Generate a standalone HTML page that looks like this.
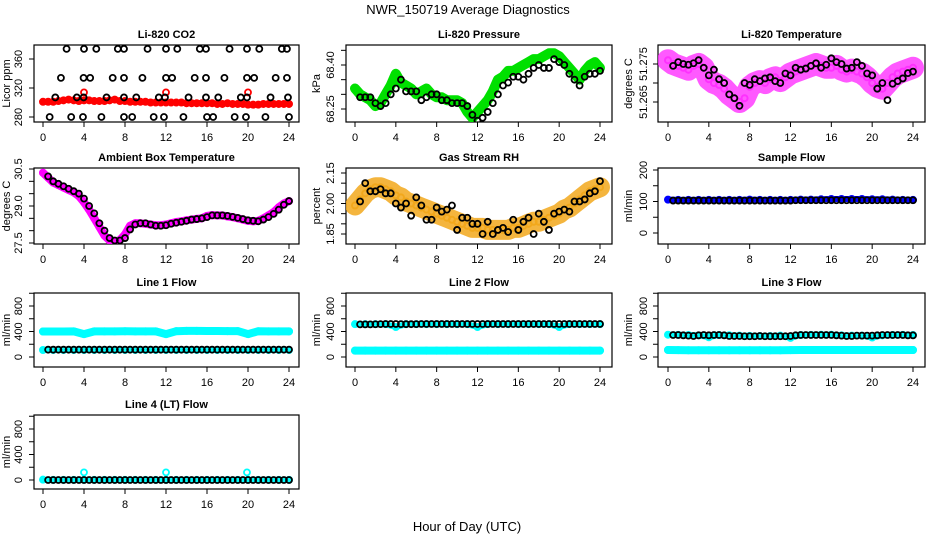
<!DOCTYPE html>
<html><head><meta charset="utf-8"><style>
html,body{margin:0;padding:0;background:#fff;}
svg{display:block;font-family:"Liberation Sans",sans-serif;}
</style></head><body>
<svg id="chart" width="936" height="540" viewBox="0 0 936 540">
<text x="468" y="14" font-size="13" text-anchor="middle">NWR_150719  Average Diagnostics</text>
<text x="467" y="531" font-size="13" text-anchor="middle">Hour of Day (UTC)</text>
</svg>
<script>
// ---------- data ----------
const xTicks = [0, 4, 8, 12, 16, 20, 24];
const co2Red = [301,301,301,302,303,304,303,302,303,303,302,302,302,303,304,302,302,301,301,301,301,300,300,300,300,300,300,300,299,299,299,299,299,299,298,298,299,298,298,298,297,297,297,298,298,298,298,298,298];
const co2RedOutX = [4.0, 12.0, 20.0];
const co2RedOutY = [314, 314, 314];
const co2BlackX = [2.3,4.0,5.2,7.3,7.9,10.2,12.0,13.1,15.3,15.9,18.2,19.9,21.1,23.3,23.8,
  1.75,3.96,4.6,6.8,7.9,9.7,12.0,12.6,14.8,15.9,17.7,19.9,20.6,22.7,23.8,
  1.2,3.3,3.96,6.2,7.9,9.1,11.3,11.9,14.2,15.9,17.1,19.3,19.9,22.2,23.9,
  0.65,2.75,3.9,5.7,7.9,8.7,10.8,11.8,13.7,16.0,16.6,18.7,19.8,21.7,24.0];
const co2BlackY = [374,374,374,374,374,374,374,374,374,374,374,374,374,374,374,
  334,334,334,334,334,334,334,334,334,334,334,334,334,334,334,
  307,307,307,307,307,307,307,307,307,307,307,307,307,307,307,
  280,280,280,280,280,280,280,280,280,280,280,280,280,280,280];
const presGreen = [68.32,68.30,68.29,68.28,68.26,68.27,68.30,68.33,68.37,68.34,68.33,68.32,68.30,68.31,68.32,68.30,68.29,68.29,68.28,68.28,68.28,68.27,68.24,68.22,68.24,68.26,68.28,68.31,68.35,68.36,68.38,68.38,68.39,68.40,68.41,68.42,68.42,68.43,68.44,68.44,68.43,68.41,68.39,68.37,68.35,68.38,68.40,68.41,68.39];
const presBlack = [68.29,68.29,68.29,68.27,68.26,68.27,68.30,68.32,68.35,68.31,68.31,68.31,68.28,68.29,68.30,68.30,68.28,68.28,68.27,68.27,68.27,68.26,68.23,68.21,68.22,68.24,68.27,68.30,68.33,68.34,68.36,68.36,68.35,68.37,68.39,68.40,68.39,68.39,68.42,68.41,68.40,68.37,68.35,68.33,68.36,68.37,68.37,68.38];
const tempMagenta = [51.2760,51.2750,51.2745,51.2740,51.2735,51.2745,51.2750,51.2740,51.2710,51.2700,51.2695,51.2685,51.2670,51.2660,51.2650,51.2660,51.2690,51.2700,51.2705,51.2700,51.2710,51.2715,51.2705,51.2715,51.2725,51.2730,51.2735,51.2740,51.2745,51.2750,51.2745,51.2740,51.2740,51.2745,51.2735,51.2730,51.2735,51.2730,51.2725,51.2715,51.2700,51.2690,51.2685,51.2700,51.2715,51.2725,51.2730,51.2735,51.2740];
const tempBlack = [51.2745,51.2755,51.2750,51.2748,51.2752,51.2760,51.2740,51.2720,51.2735,51.2710,51.2700,51.2670,51.2660,51.2640,51.2700,51.2695,51.2710,51.2705,51.2712,51.2715,51.2705,51.2700,51.2725,51.2720,51.2740,51.2735,51.2738,51.2745,51.2752,51.2740,51.2748,51.2765,51.2755,51.2750,51.2738,51.2740,51.2755,51.2745,51.2725,51.2720,51.2685,51.2700,51.2655,51.2698,51.2705,51.2712,51.2726,51.2730];
const ambMagenta = [30.35,30.15,29.95,29.85,29.75,29.65,29.55,29.40,29.15,28.85,28.50,28.15,27.80,27.60,27.55,27.62,27.85,28.20,28.30,28.30,28.28,28.25,28.22,28.22,28.25,28.30,28.35,28.38,28.42,28.45,28.48,28.50,28.60,28.63,28.62,28.62,28.58,28.55,28.50,28.45,28.40,28.38,28.40,28.50,28.62,28.75,28.95,29.10,29.20];
const ambBlack = [30.2,30.0,29.9,29.8,29.7,29.6,29.5,29.3,29.0,28.7,28.3,28.0,27.7,27.6,27.6,27.7,28.05,28.25,28.3,28.3,28.25,28.2,28.2,28.22,28.28,28.32,28.36,28.4,28.45,28.47,28.5,28.55,28.62,28.62,28.62,28.6,28.56,28.52,28.47,28.42,28.4,28.38,28.45,28.55,28.68,28.85,29.05,29.2];
const rhOrange = [1.99,2.02,2.05,2.07,2.08,2.08,2.07,2.06,2.04,2.03,2.01,2.00,1.99,1.98,1.97,1.96,1.95,1.94,1.93,1.92,1.91,1.90,1.89,1.88,1.88,1.88,1.87,1.87,1.87,1.87,1.87,1.88,1.88,1.89,1.90,1.91,1.91,1.92,1.93,1.94,1.95,1.97,1.98,2.00,2.02,2.04,2.06,2.07,2.08];
const rhBlack = [2.01,2.10,2.06,2.06,2.07,2.05,2.05,2.00,1.98,2.00,1.94,2.03,1.99,1.92,1.92,1.98,1.96,1.97,1.99,1.87,1.93,1.93,1.90,1.90,1.85,1.91,1.85,1.87,1.88,1.86,1.92,1.87,1.91,1.93,1.85,1.95,1.91,1.87,1.95,1.96,1.97,1.96,2.01,2.01,2.02,2.05,2.06,2.11];
const sampleBlue = [106,105,105,105,105,105,105,105,106,105,105,105,105,106,106,107,108,108,108,108,107,107,106,105,105];
const sampleBlack = [103,103,103,103,103,103,103,103,103,103,103,103,103,103,103,103,103,103,103,103,103,103,103,103,104,104,104,104,104,104,104,104,104,104,104,104,104,104,104,104,104,104,104,104,104,104,104,104];
const line1CyanHi = [400,400,400,402,360,402,402,402,404,402,402,402,360,405,410,410,408,408,406,406,360,404,402,402,402];
const line1CyanLo = [110,110,110,110,110,110,110,110,110,110,110,110,110,110,110,110,110,110,110,110,110,110,110,110,110];
const line1Black = [115,115,115,115,115,115,115,115,115,115,115,115,115,115,115,115,115,115,115,115,115,115,115,115,115,115,115,115,115,115,115,115,115,115,115,115,115,115,115,115,115,115,115,115,115,115,115,115];
const line2CyanHi = [515,515,515,515,470,515,515,515,515,515,515,515,470,515,515,515,515,515,515,515,470,515,515,515,515];
const line2CyanLo = [100,100,100,100,100,100,100,100,100,100,100,100,100,100,100,100,100,100,100,100,100,100,100,100,100];
const line2Black = [512,512,512,514,516,518,518,518,516,515,515,516,518,518,518,518,518,518,518,518,518,518,518,518,518,518,518,518,518,518,518,518,518,518,518,518,518,518,518,518,518,518,518,518,518,518,518,518];
const line3CyanHi = [350,348,345,340,310,345,342,336,332,330,330,335,300,345,348,350,350,340,335,335,305,340,345,348,345];
const line3CyanLo = [110,108,105,105,105,105,105,105,105,105,105,105,108,110,110,110,110,110,110,110,110,110,110,110,110];
const line3Black = [345,345,340,335,330,340,345,340,345,345,340,330,330,330,325,325,325,330,325,325,325,325,325,330,340,345,345,345,345,345,345,345,340,335,330,330,335,335,335,335,340,345,345,345,345,345,340,340];
const line4Cyan = [5,2,2,2,2,2,2,2,2,2,2,2,2,2,2,2,2,2,2,2,2,2,2,2,2];
const line4CyanOutX = [4.0, 12.0, 19.9];
const line4CyanOutY = [120, 120, 120];
const line4Black = [0,0,0,0,0,0,0,0,0,0,0,0,0,0,0,0,0,0,0,0,0,0,0,0,0,0,0,0,0,0,0,0,0,0,0,0,0,0,0,0,0,0,0,0,0,0,0,0];
const blackHours = [0.5,1,1.5,2,2.5,3,3.5,4,4.5,5,5.5,6,6.5,7,7.5,8,8.5,9,9.5,10,10.5,11,11.5,12,12.5,13,13.5,14,14.5,15,15.5,16,16.5,17,17.5,18,18.5,19,19.5,20,20.5,21,21.5,22,22.5,23,23.5,24];
const co2Ticks = [280,320,360]; const co2Labels = ["280","320","360"];
const presTicks = [68.25,68.30,68.35,68.40,68.45]; const presLabels = ["68.25","","","68.40",""];
const tempTicks = [51.265,51.270,51.275]; const tempLabels = ["51.265","","51.275"];
const ambTicks = [27.5,28.0,28.5,29.0,29.5,30.0,30.5]; const ambLabels = ["27.5","","","29.0","","","30.5"];
const rhTicks = [1.85,1.90,1.95,2.00,2.05,2.10,2.15]; const rhLabels = ["1.85","","","2.00","","","2.15"];
const sampTicks = [0,50,100,150,200]; const sampLabels = ["0","","100","","200"];
const flowTicks = [0,200,400,600,800,1000]; const flowLabels = ["0","","400","","800",""];

// ---------- rendering ----------
const NS = "http://www.w3.org/2000/svg";
const svg = document.getElementById('chart');
function mk(tag, attrs, parent){ const e=document.createElementNS(NS,tag); for(const k in attrs) e.setAttribute(k,attrs[k]); (parent||svg).appendChild(e); return e; }
const cols = [{l:34,r:299,x0:43,x24:289,tl:22,yl:10},{l:346,r:612,x0:355,x24:600,tl:334,yl:320},{l:658,r:925,x0:668,x24:913,tl:647,yl:632}];
const rows = [{t:45,b:122},{t:168,b:244},{t:293,b:367},{t:415,b:489}];

function panel(name, title, ci, ri, v1, p1, v2, p2, ticks, labels, ylab){
  const c=cols[ci], r=rows[ri];
  const g = mk('g',{});
  
  
  const X = h => c.x0 + (c.x24-c.x0)*h/24;
  const Y = v => p1 + (v - v1)*(p2-p1)/(v2-v1);
  const box = mk('rect',{x:c.l,y:r.t,width:c.r-c.l,height:r.b-r.t,fill:'none',stroke:'#000','stroke-width':1.2},g);
  
  
  const t = mk('text',{x:(c.l+c.r)/2,y:r.t-7,'font-size':11,'font-weight':'bold','text-anchor':'middle'},g);
  t.textContent = title;
  
  
  xTicks.forEach(h=>{
    mk('line',{x1:X(h),x2:X(h),y1:r.b,y2:r.b+5,stroke:'#000'},g);
    const tx = mk('text',{x:X(h),y:r.b+19,'font-size':11,'text-anchor':'middle'},g);
    tx.textContent = h;
    
    
  });
  mk('line',{x1:X(0),x2:X(24),y1:r.b,y2:r.b,stroke:'#000','stroke-width':0},g);
  ticks.forEach((v,i)=>{
    const y=Y(v);
    mk('line',{x1:c.l-5,x2:c.l,y1:y,y2:y,stroke:'#000'},g);
    if(labels[i]){
      const ty = mk('text',{x:c.tl,y:y,'font-size':11,'text-anchor':'middle',transform:`rotate(-90 ${c.tl} ${y})`},g);
      ty.textContent = labels[i];
      
      
    }
  });
  const ym=(r.t+r.b)/2;
  const yt = mk('text',{x:c.yl,y:ym,'font-size':11,'text-anchor':'middle',transform:`rotate(-90 ${c.yl} ${ym})`},g);
  yt.textContent = ylab;
  
  
  const clip = 'clip-'+name;
  const cp = mk('clipPath',{id:clip},g);
  mk('rect',{x:c.l,y:r.t,width:c.r-c.l,height:r.b-r.t},cp);
  const layer = mk('g',{'clip-path':`url(#${clip})`},g);
  return {g:layer,X,Y};
}
function band(P, vals, color, w, name, op){
  const n=vals.length;
  const pts = vals.map((v,i)=>P.X(i*24/(n-1)).toFixed(1)+','+P.Y(v).toFixed(1)).join(' ');
  const pl = mk('polyline',{points:pts,fill:'none',stroke:color,'stroke-width':w,'stroke-linejoin':'round','stroke-linecap':'round','stroke-opacity':op||1},P.g);
  
  
  vals.forEach((v,i)=>{
    const c = mk('circle',{cx:P.X(i*24/(n-1)),cy:P.Y(v),r:3,fill:'none',stroke:color,'stroke-width':2},P.g);
    
    
  });
}
function pts(P, xs, ys, color, name){
  ys.forEach((v,i)=>{
    const c = mk('circle',{cx:P.X(xs[i]),cy:P.Y(v),r:3,fill:'none',stroke:color,'stroke-width':1.8},P.g);
    
    
  });
}

let P;
P = panel('co2-panel','Li-820 CO2',0,0,280,117,360,59,co2Ticks,co2Labels,'Licor ppm');
band(P,co2Red,'#ff0000',6,'co2-red-series'); pts(P,co2RedOutX,co2RedOutY,'#ff0000','co2-red-outlier'); pts(P,co2BlackX,co2BlackY,'#000','co2-black-point');
P = panel('pressure-panel','Li-820 Pressure',1,0,68.25,109,68.40,65,presTicks,presLabels,'kPa');
band(P,presGreen,'#00e000',10,'pressure-green-series'); pts(P,blackHours,presBlack,'#000','pressure-black-point');
P = panel('temperature-panel','Li-820 Temperature',2,0,51.265,102,51.275,64,tempTicks,tempLabels,'degrees C');
band(P,tempMagenta,'#ff30ff',22,'temperature-magenta-series',0.8); pts(P,blackHours,tempBlack,'#000','temperature-black-point');
P = panel('ambient-panel','Ambient Box Temperature',0,1,27.5,243,30.5,169,ambTicks,ambLabels,'degrees C');
band(P,ambMagenta,'#ff00ff',8,'ambient-magenta-series'); pts(P,blackHours,ambBlack,'#000','ambient-black-point');
P = panel('rh-panel','Gas Stream RH',1,1,1.85,234,2.15,173,rhTicks,rhLabels,'percent');
band(P,rhOrange,'#f2a81c',20,'rh-orange-series',0.85); pts(P,blackHours,rhBlack,'#000','rh-black-point');
P = panel('sample-flow-panel','Sample Flow',2,1,0,233,200,170,sampTicks,sampLabels,'ml/min');
band(P,sampleBlue,'#0000ff',6,'sample-blue-series'); pts(P,blackHours,sampleBlack,'#000','sample-black-point');
P = panel('line1-panel','Line 1 Flow',0,2,0,357,800,306,flowTicks,flowLabels,'ml/min');
band(P,line1CyanHi,'#00ffff',8,'line1-cyan-high'); band(P,line1CyanLo,'#00ffff',6,'line1-cyan-low'); pts(P,blackHours,line1Black,'#000','line1-black-point');
P = panel('line2-panel','Line 2 Flow',1,2,0,357,800,306,flowTicks,flowLabels,'ml/min');
band(P,line2CyanHi,'#00ffff',6,'line2-cyan-high'); band(P,line2CyanLo,'#00ffff',8,'line2-cyan-low'); pts(P,blackHours,line2Black,'#000','line2-black-point');
P = panel('line3-panel','Line 3 Flow',2,2,0,357,800,306,flowTicks,flowLabels,'ml/min');
band(P,line3CyanHi,'#00ffff',6,'line3-cyan-high'); band(P,line3CyanLo,'#00ffff',8,'line3-cyan-low'); pts(P,blackHours,line3Black,'#000','line3-black-point');
P = panel('line4-panel','Line 4 (LT) Flow',0,3,0,480,800,429,flowTicks,flowLabels,'ml/min');
band(P,line4Cyan,'#00ffff',5,'line4-cyan-series'); pts(P,line4CyanOutX,line4CyanOutY,'#00ffff','line4-cyan-outlier'); pts(P,blackHours,line4Black,'#000','line4-black-point');
</script>
</body></html>
